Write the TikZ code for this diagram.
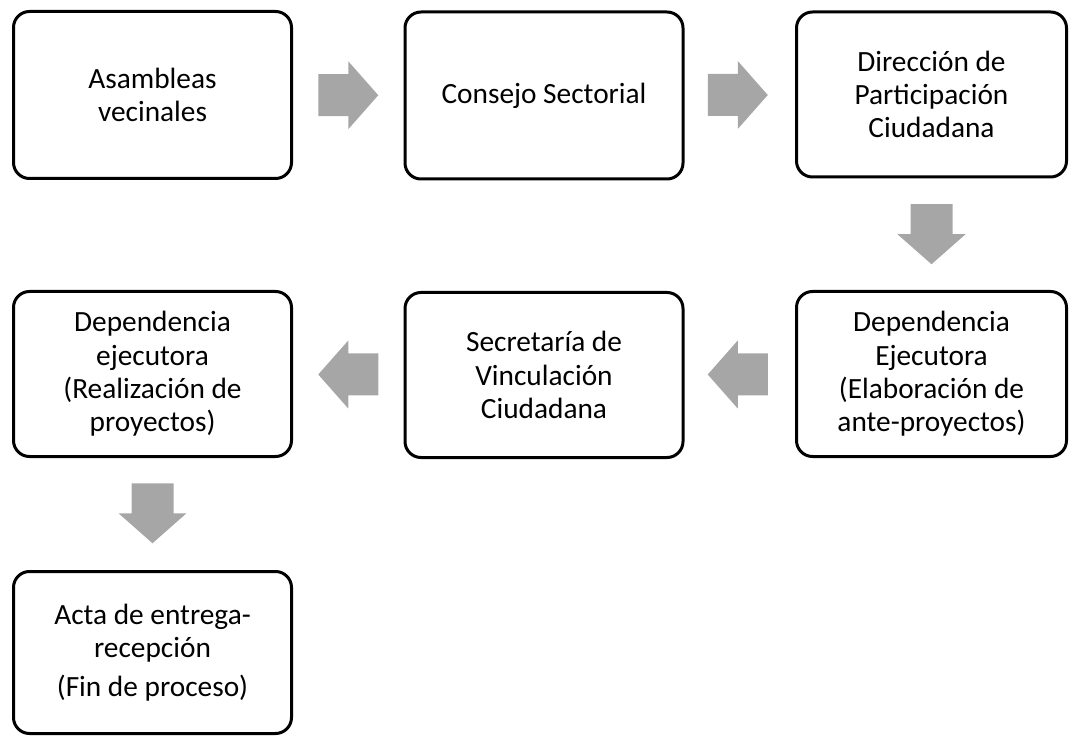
\documentclass[tikz,border=0pt]{standalone}
\usepackage{fontspec}
\setmainfont{Carlito}
\usetikzlibrary{calc,positioning}

\begin{document}
\begin{tikzpicture}[
	%	style def
    x=0.75pt, y=0.75pt,
    process box/.style={draw=black, line width=2.25pt, rounded corners=12pt,
        minimum width=208.5pt, minimum height=123.75pt, align=center, inner sep=4pt,
        font=\fontsize{22}{25}\selectfont},
    block arrow/.style={fill=black!35}
    ]
	\useasboundingbox (0,0) rectangle (1070,736);

	% first row
	\node[process box, minimum height=125.25pt] (asamb) at (152.5,641) {Asambleas\\vecinales};
	\node[process box, minimum height=125.25pt] (consejo) at (544,640.5) {Consejo Sectorial};
	\node[process box, minimum width=202.5pt] (direccion) at (931.5,641.5) {Direcci\'on de\\Participaci\'on\\Ciudadana};
	% second row
	\node[process box, minimum width=202.5pt] (depejec) at (931.5,362) {Dependencia\\Ejecutora\\(Elaboraci\'on de\\ante-proyectos)};
	\node[process box] (secret) at (544,361) {Secretar\'ia de\\Vinculaci\'on\\Ciudadana};
	\node[process box] (depreal) at (152.5,362) {Dependencia\\ejecutora\\(Realizaci\'on de\\proyectos)};
	% last step
	\node[process box, minimum height=121.5pt] (acta) at (152.5,83.5) {Acta de entrega-\\recepci\'on\\[4pt](Fin de proceso)};

	% block arrows between steps
	\fill[block arrow, shift={($(asamb)!0.5!(consejo)$)}] (-30,21) -- (0,21) -- (0,34) -- (30,0) -- (0,-34) -- (0,-21) -- (-30,-21) -- cycle;
	\fill[block arrow, shift={($(consejo)!0.5!(direccion)$)}] (-30,21) -- (0,21) -- (0,34) -- (30,0) -- (0,-34) -- (0,-21) -- (-30,-21) -- cycle;
	\fill[block arrow, shift={($(direccion)!0.5!(depejec)$)}, rotate=-90] (-30,21) -- (0,21) -- (0,34) -- (30,0) -- (0,-34) -- (0,-21) -- (-30,-21) -- cycle;
	\fill[block arrow, shift={($(depejec)!0.5!(secret)$)}, rotate=180] (-30,21) -- (0,21) -- (0,34) -- (30,0) -- (0,-34) -- (0,-21) -- (-30,-21) -- cycle;
	\fill[block arrow, shift={($(secret)!0.5!(depreal)$)}, rotate=180] (-30,21) -- (0,21) -- (0,34) -- (30,0) -- (0,-34) -- (0,-21) -- (-30,-21) -- cycle;
	\fill[block arrow, shift={($(depreal)!0.5!(acta)$)}, rotate=-90] (-30,21) -- (0,21) -- (0,34) -- (30,0) -- (0,-34) -- (0,-21) -- (-30,-21) -- cycle;
\end{tikzpicture}
\end{document}
